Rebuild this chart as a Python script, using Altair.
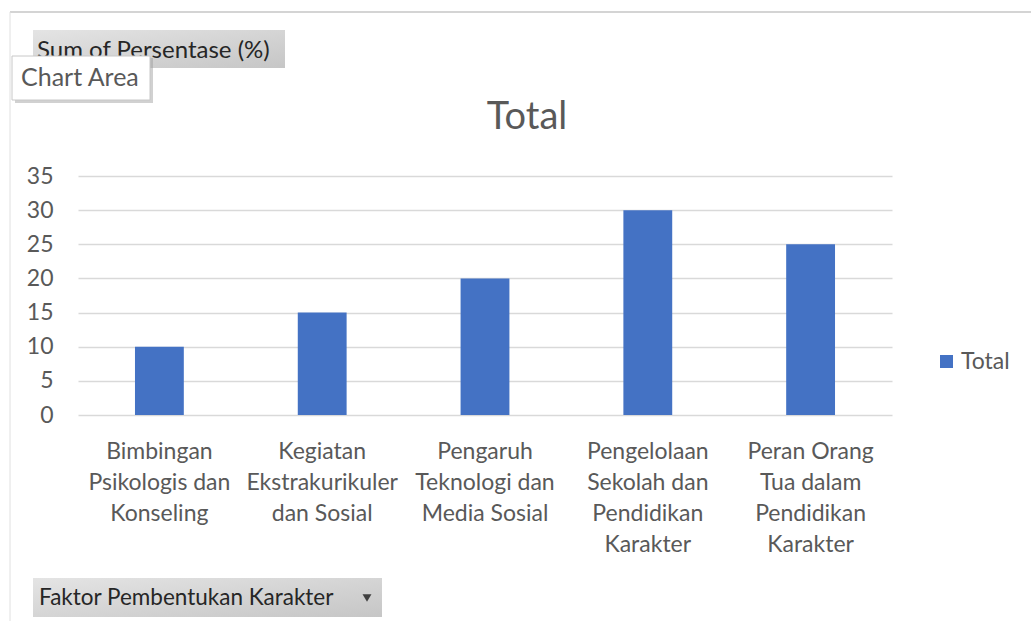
import json
import altair as alt
import pandas as pd

# ---- data ----
categories = [
    "Bimbingan Psikologis dan Konseling",
    "Kegiatan Ekstrakurikuler dan Sosial",
    "Pengaruh Teknologi dan Media Sosial",
    "Pengelolaan Sekolah dan Pendidikan Karakter",
    "Peran Orang Tua dalam Pendidikan Karakter",
]
values = [10, 15, 20, 30, 25]
label_lines = [
    ["Bimbingan", "Psikologis dan", "Konseling"],
    ["Kegiatan", "Ekstrakurikuler", "dan Sosial"],
    ["Pengaruh", "Teknologi dan", "Media Sosial"],
    ["Pengelolaan", "Sekolah dan", "Pendidikan", "Karakter"],
    ["Peran Orang", "Tua dalam", "Pendidikan", "Karakter"],
]
y_ticks = [0, 5, 10, 15, 20, 25, 30, 35]
series_name = ["Total"]
chart_title = "Total"
field_button = ["Sum of Persentase (%)"]
axis_button = ["Faktor Pembentukan Karakter"]
tooltip_text = ["Chart Area"]

FONT = "Lato"
TXT = "#595959"
BLUE = "#4472C4"

df = pd.DataFrame({"cat": categories, "val": values, "series": series_name * len(categories)})

label_expr = "%s[indexof(%s, datum.label)]" % (json.dumps(label_lines), json.dumps(categories))

# plot area origin at (78,176) in the page
OX, OY = 78, 176
W, H = 814, 239

bars = alt.Chart(df).mark_bar(color=BLUE).encode(
    x=alt.X(
        "cat:N",
        sort=categories,
        scale=alt.Scale(paddingInner=0.70, paddingOuter=0.35),
        axis=alt.Axis(
            title=None,
            labelAngle=0,
            labelExpr=label_expr,
            labelFont=FONT,
            labelFontSize=23,
            labelColor=TXT,
            labelLineHeight=31,
            labelPadding=25,
            labelLimit=300,
            ticks=False,
            domain=False,
            labelBaseline="top",
        ),
    ),
    y=alt.Y(
        "val:Q",
        scale=alt.Scale(domain=[0, 35], nice=False),
        axis=alt.Axis(
            title=None,
            values=y_ticks,
            labelFont=FONT,
            labelFontSize=23,
            labelColor=TXT,
            labelPadding=25,
            ticks=False,
            domain=False,
            grid=True,
            gridColor="#D9D9D9",
            gridWidth=1.6,
        ),
    ),
    color=alt.Color(
        "series:N",
        scale=alt.Scale(domain=series_name, range=[BLUE]),
        legend=alt.Legend(
            title=None,
            orient="none",
            legendX=857,
            legendY=174,
            padding=0,
            symbolType="square",
            symbolSize=169,
            symbolStrokeWidth=0,
            labelFont=FONT,
            labelFontSize=23,
            labelColor=TXT,
            labelOffset=3,
        ),
    ),
)

grad = alt.Gradient(
    gradient="linear",
    stops=[alt.GradientStop(color="#E4E4E4", offset=0), alt.GradientStop(color="#C6C6C6", offset=1)],
    x1=0, y1=0, x2=1, y2=1,
)

one = pd.DataFrame({"k": [0]})

border_top = alt.Chart(one).mark_rule(color="#D4D4D4", strokeWidth=2).encode(
    x=alt.value(10 - OX), x2=alt.value(1031 - OX), y=alt.value(12 - OY)
)
border_left = alt.Chart(one).mark_rule(color="#E0E0E0", strokeWidth=1).encode(
    x=alt.value(10 - OX), y=alt.value(12 - OY), y2=alt.value(621 - OY)
)

btn1 = alt.Chart(one).mark_rect(color=grad).encode(
    x=alt.value(33 - OX), x2=alt.value(285 - OX), y=alt.value(30 - OY), y2=alt.value(68 - OY)
)
btn1_text = alt.Chart(pd.DataFrame({"t": field_button})).mark_text(
    font=FONT, fontSize=24, color="#262626", align="left", baseline="middle"
).encode(x=alt.value(37 - OX), y=alt.value(51 - OY), text="t:N")

tip_shadow = alt.Chart(one).mark_rect(color="#9A9A9A", opacity=0.45).encode(
    x=alt.value(15 - OX), x2=alt.value(153 - OX), y=alt.value(58 - OY), y2=alt.value(103 - OY)
)
tip_box = alt.Chart(one).mark_rect(color="#FFFFFF", stroke="#C8C8C8", strokeWidth=1).encode(
    x=alt.value(12 - OX), x2=alt.value(150 - OX), y=alt.value(56 - OY), y2=alt.value(100 - OY)
)
tip_text = alt.Chart(pd.DataFrame({"t": tooltip_text})).mark_text(
    font=FONT, fontSize=25, color=TXT, align="left", baseline="middle"
).encode(x=alt.value(21 - OX), y=alt.value(78 - OY), text="t:N")

btn2 = alt.Chart(one).mark_rect(color=grad).encode(
    x=alt.value(33 - OX), x2=alt.value(382 - OX), y=alt.value(578 - OY), y2=alt.value(617 - OY)
)
btn2_text = alt.Chart(pd.DataFrame({"t": axis_button})).mark_text(
    font=FONT, fontSize=22.5, color="#262626", align="left", baseline="middle"
).encode(x=alt.value(39 - OX), y=alt.value(598 - OY), text="t:N")
btn2_arrow = alt.Chart(one).mark_point(
    shape="triangle-down", filled=True, color="#404040", size=80, opacity=1
).encode(x=alt.value(367 - OX), y=alt.value(598 - OY))

chart = alt.layer(
    border_top, border_left, bars, btn1, btn1_text, tip_shadow, tip_box, tip_text,
    btn2, btn2_text, btn2_arrow,
).properties(
    width=W,
    height=H,
    autosize=alt.AutoSizeParams(type="none"),
    padding={"left": OX, "top": OY, "right": 1031 - OX - W, "bottom": 621 - OY - H},
    background="#FFFFFF",
    title=alt.TitleParams(
        chart_title,
        font=FONT,
        fontSize=38,
        fontWeight="normal",
        color=TXT,
        anchor="middle",
        frame="group",
        dx=42,
        offset=-156,
        baseline="alphabetic",
    ),
).configure_view(strokeWidth=0)

chart.save("out.html", embed_options={"renderer": "svg", "actions": False})
